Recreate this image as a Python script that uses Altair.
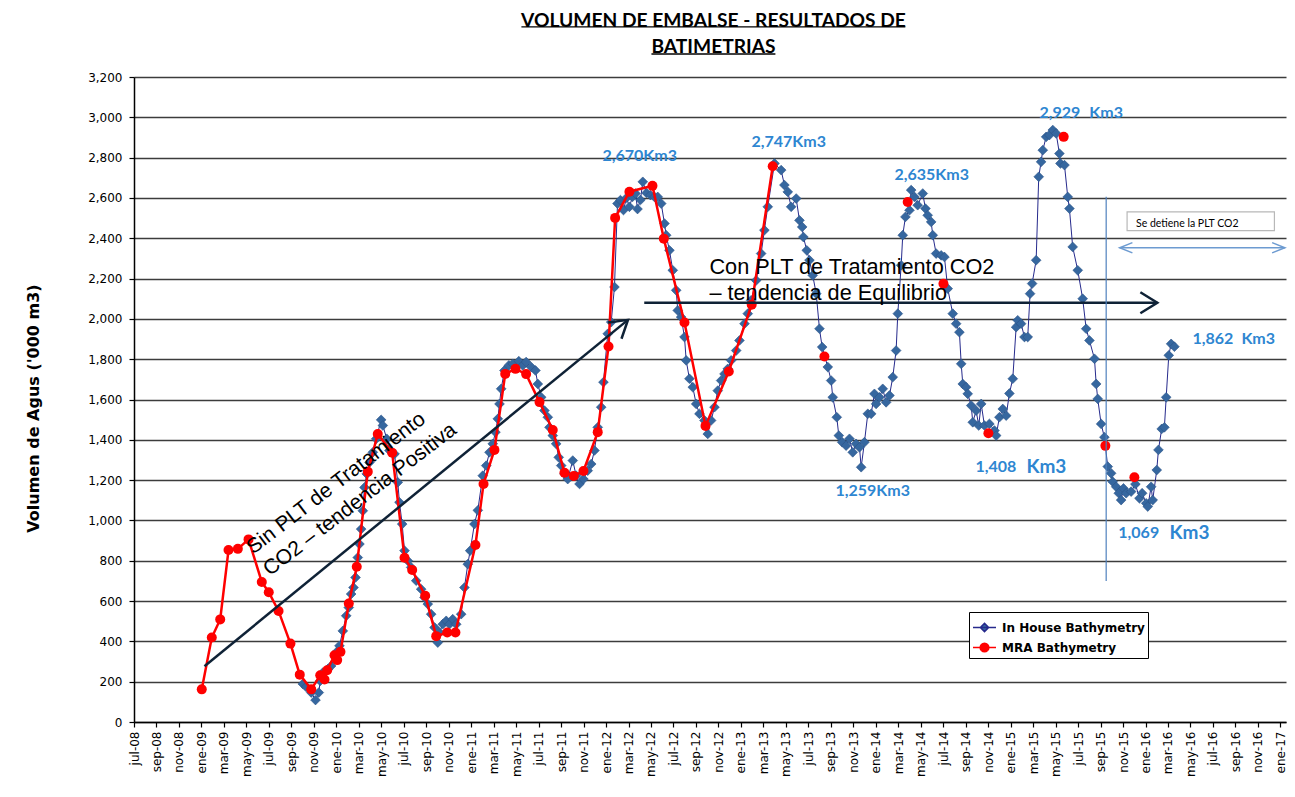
import altair as alt
import pandas as pd

# ---------------- data (x = months elapsed since 1 Jul 2008) ----------------
series_names = ["In House Bathymetry", "MRA Bathymetry"]
title_lines = ["VOLUMEN DE EMBALSE - RESULTADOS DE", "BATIMETRIAS"]

x_labels = [
    "jul-08", "sep-08", "nov-08",
    "ene-09", "mar-09", "may-09", "jul-09", "sep-09", "nov-09",
    "ene-10", "mar-10", "may-10", "jul-10", "sep-10", "nov-10",
    "ene-11", "mar-11", "may-11", "jul-11", "sep-11", "nov-11",
    "ene-12", "mar-12", "may-12", "jul-12", "sep-12", "nov-12",
    "ene-13", "mar-13", "may-13", "jul-13", "sep-13", "nov-13",
    "ene-14", "mar-14", "may-14", "jul-14", "sep-14", "nov-14",
    "ene-15", "mar-15", "may-15", "jul-15", "sep-15", "nov-15",
    "ene-16", "mar-16", "may-16", "jul-16", "sep-16", "nov-16",
    "ene-17",
]
x_tick_months = list(range(0, 103, 2))
y_ticks = list(range(0, 3201, 200))

inhouse_mes = [
    15.02, 15.32, 15.77, 16.15, 16.44, 16.57, 16.80, 17.24, 17.54, 18.13,
    18.28, 18.58, 18.88, 19.11, 19.32, 19.53, 19.71, 19.91, 20.06, 20.21,
    20.36, 20.51, 20.71, 20.95, 21.25, 21.55, 21.99, 22.14, 22.49, 22.73,
    23.18, 23.47, 23.62, 23.86, 24.07, 24.36, 24.66, 25.11, 25.55, 25.85,
    26.14, 26.44, 26.74, 27.03, 27.18, 27.47, 27.78, 28.07, 28.36, 28.67,
    29.11, 29.40, 29.70, 29.91, 30.29, 30.59, 31.03, 31.34, 31.63, 31.92,
    32.16, 32.37, 32.52, 32.67, 32.96, 33.35, 33.70, 34.24, 34.59, 34.89,
    35.34, 35.72, 35.93, 36.23, 36.52, 36.82, 36.97, 37.26, 37.56, 37.79,
    38.01, 38.30, 38.59, 39.04, 39.34, 39.64, 39.99, 40.37, 40.68, 40.97,
    41.26, 41.57, 41.77, 42.15, 42.46, 42.75, 43.02, 43.28, 43.55, 43.82,
    44.08, 44.35, 44.62, 44.80, 45.06, 45.27, 45.60, 45.95, 46.31, 46.60,
    46.91, 47.20, 47.35, 47.64, 47.94, 48.24, 48.38, 48.68, 48.98, 49.13,
    49.42, 49.72, 50.02, 50.31, 50.76, 51.05, 51.35, 51.65, 51.94, 52.24,
    52.54, 52.83, 53.13, 53.58, 53.87, 54.32, 54.61, 54.91, 55.36, 55.80,
    56.09, 56.39, 56.99, 57.58, 57.87, 58.17, 58.47, 58.92, 59.21, 59.45,
    59.56, 59.86, 60.10, 60.39, 60.70, 60.99, 61.23, 61.73, 62.03, 62.17,
    62.53, 62.71, 63.01, 63.36, 63.66, 63.95, 64.25, 64.55, 64.70, 64.99,
    65.29, 65.59, 65.88, 66.03, 66.33, 66.62, 66.92, 67.22, 67.51, 67.81,
    67.96, 68.26, 68.40, 68.64, 69.00, 69.15, 69.44, 69.73, 70.18, 70.42,
    70.62, 70.93, 71.07, 71.37, 71.82, 72.11, 72.40, 72.85, 73.15, 73.44,
    73.60, 73.74, 74.04, 74.18, 74.49, 74.63, 74.93, 75.16, 75.38, 75.67,
    76.11, 76.56, 76.71, 77.00, 77.30, 77.60, 77.89, 78.19, 78.49, 78.63,
    78.93, 79.23, 79.52, 79.73, 79.91, 80.27, 80.50, 80.71, 80.86, 81.16,
    81.45, 81.75, 82.05, 82.34, 82.43, 82.79, 83.08, 83.23, 83.52, 83.97,
    84.41, 84.72, 85.01, 85.46, 85.61, 85.75, 86.05, 86.34, 86.64, 86.94,
    87.08, 87.39, 87.62, 87.83, 88.04, 88.28, 88.72, 89.10, 89.46, 89.70,
    90.06, 90.20, 90.50, 90.64, 91.00, 91.15, 91.44, 91.68, 91.84, 92.07,
    92.28, 92.57,
]
inhouse_vol = [
    189, 174, 146, 109, 146, 204, 245, 262, 278, 353,
    378, 452, 527, 568, 635, 667, 717, 816, 883, 957,
    1048, 1164, 1231, 1288, 1338, 1405, 1499, 1471, 1405, 1347,
    1330, 1189, 1090, 982, 850, 800, 767, 701, 659, 618,
    585, 535, 469, 394, 444, 485, 502, 485, 510, 485,
    535, 667, 783, 850, 982, 1050, 1222, 1272, 1338, 1380,
    1438, 1504, 1578, 1653, 1744, 1769, 1777, 1790, 1769, 1786,
    1761, 1744, 1677, 1611, 1545, 1512, 1462, 1421, 1380, 1313,
    1272, 1231, 1205, 1297, 1222, 1181, 1205, 1247, 1280, 1347,
    1462, 1562, 1686, 1926, 1984, 2158, 2572, 2589, 2540, 2600,
    2556, 2605, 2622, 2545, 2590, 2680, 2625, 2614, 2605, 2605,
    2572, 2473, 2415, 2340, 2241, 2142, 2042, 2009, 1910, 1794,
    1703, 1661, 1578, 1529, 1496, 1429, 1496, 1562, 1644, 1694,
    1727, 1752, 1794, 1843, 1893, 1976, 2026, 2092, 2191, 2324,
    2440, 2556, 2771, 2738, 2664, 2630, 2556, 2597, 2489, 2456,
    2406, 2340, 2291, 2216, 2125, 1951, 1860, 1761, 1694, 1611,
    1512, 1421, 1388, 1371, 1405, 1338, 1380, 1363, 1264, 1388,
    1529, 1529, 1628, 1578, 1611, 1653, 1586, 1620, 1711, 1843,
    2026, 2266, 2415, 2506, 2539, 2639, 2605, 2564, 2622, 2547,
    2514, 2481, 2415, 2324, 2315, 2307, 2150, 2026, 1976, 1934,
    1777, 1677, 1661, 1628, 1570, 1487, 1545, 1471, 1578, 1471,
    1479, 1446, 1421, 1512, 1553, 1520, 1630, 1703, 1959, 1993,
    1976, 1910, 1910, 2125, 2175, 2291, 2705, 2779, 2837, 2903,
    2912, 2937, 2920, 2820, 2771, 2763, 2605, 2547, 2357, 2241,
    2100, 1951, 1893, 1802, 1677, 1603, 1479, 1413, 1267, 1234,
    1192, 1167, 1135, 1101, 1159, 1135, 1143, 1180, 1110, 1135,
    1085, 1069, 1167, 1101, 1250, 1350, 1454, 1462, 1611, 1819,
    1876, 1862,
]

# MRA survey points joined by the red line
mra_mes = [
    6.03, 6.92, 7.67, 8.41, 9.24, 10.19, 11.37, 11.99, 12.86, 13.92,
    14.75, 15.77, 16.57, 16.95, 17.19, 17.84, 18.08, 18.37, 19.11, 19.82,
    20.80, 21.69, 22.97, 24.07, 24.75, 25.91, 26.89, 27.87, 28.60, 30.38,
    31.10, 32.07, 33.03, 33.94, 34.89, 36.08, 37.26, 38.30, 39.13, 39.99,
    41.26, 42.22, 42.81, 44.08, 46.13, 47.14, 48.98, 50.85, 52.92, 54.96,
    56.83,
]
mra_vol = [
    162, 419, 509, 853, 859, 906, 695, 644, 551, 389,
    235, 162, 232, 211, 257, 331, 307, 348, 588, 770,
    1242, 1429, 1336, 815, 754, 626, 426, 444, 444, 878,
    1181, 1350, 1727, 1752, 1726, 1587, 1449, 1237, 1221, 1245,
    1438, 1863, 2501, 2631, 2660, 2398, 1982, 1469, 1739, 2070,
    2757,
]
# later MRA surveys shown as isolated points
mra_sueltos_mes = [61.43, 68.84, 72.02, 76.02, 82.72, 86.43, 89.01]
mra_sueltos_vol = [1813, 2580, 2174, 1433, 2903, 1370, 1214]

# peak / trough annotations
label_text = ["2,670Km3", "2,747Km3", "2,635Km3", "2,929", "Km3", "1,259Km3",
              "1,408", "Km3", "1,069", "Km3", "1,862", "Km3"]
label_mes = [41.68, 54.94, 67.66, 80.56, 85.0, 62.41, 74.87, 79.4, 87.58, 92.13, 94.17, 98.53]
label_vol = [2810, 2880, 2716, 3019, 3019, 1146, 1265, 1265, 937, 937, 1901, 1901]
label_size = [16, 16, 16, 16, 16, 16, 16, 19, 16, 19, 16, 16]

# ---------------- styling ----------------
NAVY_LINE = "#262A8C"
BLUE_PT = "#36679F"
RED = "#FF0000"
LBL_BLUE = "#2E86D1"
DARK = "#0F2236"
Y_TITLE = "Volumen de Agus ('000 m3)"

xs = alt.Scale(domain=[0, 102.5], nice=False, zero=False)
ys = alt.Scale(domain=[0, 3200], nice=False)

label_expr = "[" + ",".join("'%s'" % l for l in x_labels) + "][round(datum.value/2)]"

x_axis = alt.Axis(
    values=x_tick_months, labelExpr=label_expr, title=None, grid=False,
    labelAngle=270, labelAlign="right", labelBaseline="middle",
    labelFont="DejaVu Sans", labelFontSize=12, labelColor="black",
    labelPadding=4, labelOverlap=False, labelBound=False, labelFlush=False,
    tickSize=5, tickColor="black", tickWidth=1.2, domainColor="black", domainWidth=1.5,
)
y_axis = alt.Axis(
    values=y_ticks, format=",.0f", grid=True, gridColor="#3C3C3C", gridWidth=1.3,
    labelFont="DejaVu Sans", labelFontSize=12, labelColor="black", labelPadding=7,
    tickSize=5, tickColor="black", tickWidth=1.2, domainColor="black", domainWidth=1.5,
    title=Y_TITLE, titleFont="DejaVu Sans", titleFontSize=16, titleFontWeight="bold",
    titleColor="black", titlePadding=46, titleY=331,
)


def X(field="mes"):
    return alt.X(field + ":Q", scale=xs, axis=x_axis, title=None)


def Y(field="vol"):
    return alt.Y(field + ":Q", scale=ys, axis=y_axis, title=Y_TITLE)


inhouse = pd.DataFrame({"mes": inhouse_mes, "vol": inhouse_vol})
mra_line = pd.DataFrame({"mes": mra_mes, "vol": mra_vol})
mra_all = pd.DataFrame({"mes": mra_mes + mra_sueltos_mes, "vol": mra_vol + mra_sueltos_vol})

blue_line = alt.Chart(inhouse).mark_line(color=NAVY_LINE, strokeWidth=1).encode(x=X(), y=Y())
blue_pts = alt.Chart(inhouse).mark_point(
    shape="diamond", filled=True, size=95, color=BLUE_PT, opacity=1,
    stroke="#2A5286", strokeWidth=0.6).encode(x=X(), y=Y())
red_line = alt.Chart(mra_line).mark_line(color=RED, strokeWidth=2.5).encode(x=X(), y=Y())
red_pts = alt.Chart(mra_all).mark_point(
    shape="circle", filled=True, size=100, color=RED, opacity=1).encode(x=X(), y=Y())

# ---------------- annotations ----------------
dark_rules = pd.DataFrame({
    "mes": [6.27, 45.4], "vol": [277, 2080], "mes2": [43.95, 91.05], "vol2": [1995, 2080]})
dark_lines = alt.Chart(dark_rules).mark_rule(color=DARK, strokeWidth=2.5).encode(
    x=X(), y=Y(), x2="mes2:Q", y2="vol2:Q")

chevron = "M-1,-0.62L0,0L-1,0.62"
dark_heads_df = pd.DataFrame({"mes": [43.95, 91.05], "vol": [1995, 2080], "ang": [320.7, 0]})
dark_heads = alt.Chart(dark_heads_df).mark_point(
    shape=chevron, filled=False, size=1150, color=DARK, strokeWidth=2.5, opacity=1).encode(
    x=X(), y=Y(), angle=alt.Angle("ang:Q", scale=None))

vline_df = pd.DataFrame({"mes": [86.5], "vol": [699], "vol2": [2606]})
vline = alt.Chart(vline_df).mark_rule(color="#4F81BD", strokeWidth=1.2).encode(
    x=X(), y=Y(), y2="vol2:Q")

dbl_df = pd.DataFrame({"mes": [87.7], "mes2": [102.4], "vol": [2353]})
dbl_line = alt.Chart(dbl_df).mark_rule(color="#6D9BD1", strokeWidth=1.5).encode(
    x=X(), x2="mes2:Q", y=Y())
dbl_heads_df = pd.DataFrame({"mes": [87.7, 102.4], "vol": [2353, 2353], "ang": [180, 0]})
dbl_heads = alt.Chart(dbl_heads_df).mark_point(
    shape="M-1,-0.4L0,0L-1,0.4", filled=False, size=650, color="#6D9BD1",
    strokeWidth=1.5, opacity=1).encode(x=X(), y=Y(), angle=alt.Angle("ang:Q", scale=None))

box_df = pd.DataFrame({"mes": [88.36], "mes2": [101.47], "vol": [2438], "vol2": [2531]})
box = alt.Chart(box_df).mark_rect(fill="white", stroke="#B8B8B8", strokeWidth=1.2).encode(
    x=X(), x2="mes2:Q", y=Y(), y2="vol2:Q")
box_txt_df = pd.DataFrame({"mes": [89.16], "vol": [2470], "t": ["Se detiene  la PLT CO2"]})
box_txt = alt.Chart(box_txt_df).mark_text(
    align="left", baseline="middle", font="Lato", fontSize=10.5, color="black").encode(
    x=X(), y=Y(), text="t:N")

con_df = pd.DataFrame({"mes": [51.2, 51.2], "vol": [2259, 2130],
                       "t": ["Con PLT de Tratamiento CO2", "\u2013 tendencia de  Equilibrio"]})
con_txt = alt.Chart(con_df).mark_text(
    align="left", baseline="middle", font="Liberation Sans", fontSize=21.7, color="black").encode(
    x=X(), y=Y(), text="t:N")

sin_df = pd.DataFrame({"mes": [10.28, 11.76], "vol": [853, 745],
                       "t": ["Sin PLT de Tratamiento", "CO2 \u2013 tendencia Positiva"]})
sin_txt = alt.Chart(sin_df).mark_text(
    align="left", baseline="middle", font="Liberation Sans", fontSize=21, color="black",
    angle=322.5).encode(x=X(), y=Y(), text="t:N")

lab_df = pd.DataFrame({"mes": label_mes, "vol": label_vol, "t": label_text, "s": label_size})
labels = alt.Chart(lab_df).mark_text(
    align="left", baseline="middle", font="Lato", fontWeight="bold", color=LBL_BLUE).encode(
    x=X(), y=Y(), text="t:N", size=alt.Size("s:Q", scale=None, legend=None))

# chart heading, underlined, placed above the plot area
title_df = pd.DataFrame({"mes": [51.56, 51.56], "vol": [3478, 3349], "t": title_lines})
title_txt = alt.Chart(title_df).mark_text(
    align="center", baseline="middle", font="Lato", fontSize=19.2, fontWeight="bold",
    color="black").encode(x=X(), y=Y(), text="t:N")
ul_df = pd.DataFrame({"mes": [34.47, 46.04], "mes2": [68.63, 57.07], "vol": [3449, 3314]})
underline = alt.Chart(ul_df).mark_rule(color="black", strokeWidth=1.3).encode(
    x=X(), x2="mes2:Q", y=Y())

# ---------------- legend (layer with no visible marks) ----------------
diamond_sym = "M-1,0L1,0M0,-0.36L0.36,0L0,0.36L-0.36,0Z"
circle_sym = "M-1,0L1,0M-0.38,0A0.38,0.38,0,1,0,0.38,0A0.38,0.38,0,1,0,-0.38,0Z"
leg = alt.Legend(
    title=None, orient="none", legendX=835, legendY=535, direction="vertical",
    fillColor="white", strokeColor="black", padding=3, rowPadding=0,
    labelFont="DejaVu Sans", labelFontSize=12, labelFontWeight="bold",
    labelColor="black", labelOffset=5, symbolSize=529, symbolStrokeWidth=1.5,
)
legend_df = pd.DataFrame({"serie": series_names, "mes": [0, 0], "vol": [0, 0]})
legend_layer = alt.Chart(legend_df).transform_filter("false").mark_point(
    filled=True, strokeWidth=1.5, opacity=1).encode(
    x=X(), y=Y(),
    fill=alt.Fill("serie:N", scale=alt.Scale(domain=series_names, range=[BLUE_PT, RED]), legend=leg),
    stroke=alt.Stroke("serie:N", scale=alt.Scale(domain=series_names, range=[NAVY_LINE, RED]), legend=leg),
    shape=alt.Shape("serie:N", scale=alt.Scale(domain=series_names, range=[diamond_sym, circle_sym]), legend=leg),
)

chart = alt.layer(
    blue_line, blue_pts, red_line, red_pts,
    dark_lines, dark_heads, vline, dbl_line, dbl_heads, box, box_txt,
    con_txt, sin_txt, labels, title_txt, underline, legend_layer,
).properties(
    width=1152, height=645,
    autosize=alt.AutoSizeParams(type="none"),
    padding={"left": 126, "top": 69, "right": 0.5, "bottom": 67},
).configure(background="white", view=alt.ViewConfig(stroke=None))

chart.save("out.html", embed_options={"renderer": "svg", "actions": False})
